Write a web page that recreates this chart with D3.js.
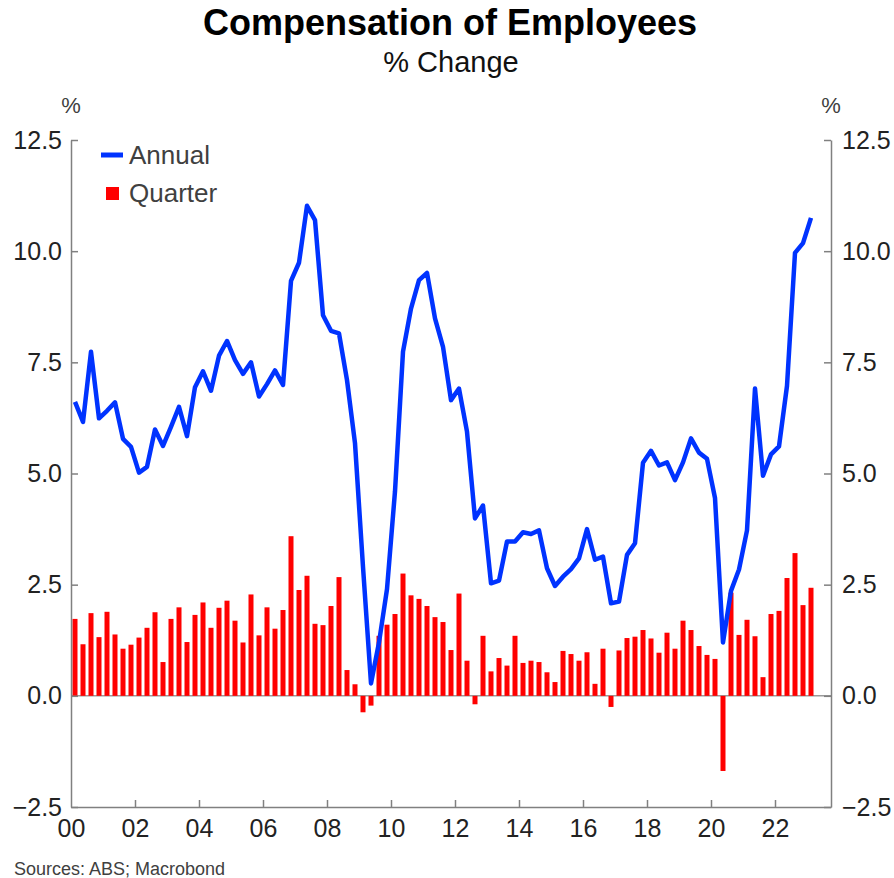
<!DOCTYPE html>
<html>
<head>
<meta charset="utf-8">
<script src="https://cdn.jsdelivr.net/npm/d3@7"></script>
<style>
  body { margin: 0; background: #fff; }
  text { font-family: "Liberation Sans", Arial, sans-serif; }
</style>
</head>
<body>
<div id="chart"></div>
<script>
// Données (trimestres 2000 T1 -> 2023 T1)
const startYear = 2000;
const annual = [
  6.61, 6.16, 7.74, 6.24, 6.41, 6.60, 5.78, 5.60, 5.02, 5.15, 5.99, 5.62,
  6.05, 6.50, 5.84, 6.94, 7.30, 6.86, 7.65, 7.98, 7.55, 7.24, 7.50, 6.73,
  7.01, 7.32, 6.99, 9.33, 9.74, 11.02, 10.70, 8.56, 8.21, 8.15, 7.10, 5.68,
  2.90, 0.28, 1.20, 2.40, 4.60, 7.74, 8.71, 9.35, 9.51, 8.49, 7.85, 6.65,
  6.91, 5.94, 3.99, 4.28, 2.53, 2.59, 3.47, 3.47, 3.68, 3.64, 3.72, 2.87,
  2.47, 2.68, 2.85, 3.09, 3.75, 3.06, 3.13, 2.08, 2.12, 3.17, 3.43, 5.24,
  5.51, 5.18, 5.25, 4.85, 5.25, 5.79, 5.47, 5.33, 4.45, 1.20, 2.36, 2.84,
  3.72, 6.91, 4.95, 5.43, 5.61, 6.97, 9.96, 10.18, 10.75
];
const quarter = [
  1.73, 1.16, 1.86, 1.32, 1.89, 1.38, 1.06, 1.15, 1.31, 1.53, 1.88, 0.76,
  1.73, 1.99, 1.21, 1.82, 2.10, 1.53, 1.98, 2.14, 1.69, 1.20, 2.28, 1.36,
  1.99, 1.51, 1.93, 3.59, 2.38, 2.70, 1.62, 1.59, 2.02, 2.67, 0.58, 0.26,
  -0.37, -0.22, 1.35, 1.60, 1.84, 2.75, 2.26, 2.18, 2.02, 1.77, 1.66, 1.03,
  2.30, 0.79, -0.19, 1.35, 0.55, 0.85, 0.68, 1.35, 0.74, 0.79, 0.76, 0.53,
  0.31, 1.01, 0.94, 0.79, 0.98, 0.27, 1.06, -0.25, 1.02, 1.30, 1.33, 1.48,
  1.29, 0.97, 1.42, 1.06, 1.69, 1.48, 1.12, 0.92, 0.83, -1.69, 2.32, 1.37,
  1.71, 1.34, 0.42, 1.84, 1.91, 2.65, 3.21, 2.04, 2.43
];
const yTicks = [-2.5, 0, 2.5, 5, 7.5, 10, 12.5];
const xTicks = [2000, 2002, 2004, 2006, 2008, 2010, 2012, 2014, 2016, 2018, 2020, 2022];
const xTickLabels = ["00", "02", "04", "06", "08", "10", "12", "14", "16", "18", "20", "22"];

// milieu de chaque trimestre
const data = annual.map((a, i) => ({
  t: startYear + (i + 0.5) / 4,
  annual: a,
  quarter: quarter[i],
}));

const width = 894;
const height = 878;
const margin = { top: 140, right: 63, bottom: 71, left: 71 };
const axisColor = "#808080";

const svg = d3
  .select("#chart")
  .append("svg")
  .attr("width", width)
  .attr("height", height)
  .attr("viewBox", [0, 0, width, height]);

const x = d3
  .scaleLinear()
  .domain([2000, 2023.75])
  .range([margin.left, width - margin.right]);

const y = d3
  .scaleLinear()
  .domain([-2.5, 12.5])
  .range([height - margin.bottom, margin.top]);

// titres
svg.append("text")
  .attr("x", 450).attr("y", 35)
  .attr("text-anchor", "middle")
  .attr("font-size", 36).attr("font-weight", "bold")
  .attr("fill", "#000")
  .text("Compensation of Employees");

svg.append("text")
  .attr("x", 451).attr("y", 72)
  .attr("text-anchor", "middle")
  .attr("font-size", 29)
  .attr("fill", "#111")
  .text("% Change");

// ligne du zéro
svg.append("line")
  .attr("x1", x(2000)).attr("x2", x(2023.75))
  .attr("y1", y(0)).attr("y2", y(0))
  .attr("stroke", "#9a9a9a")
  .attr("stroke-width", 1.5);

// barres trimestrielles
const barW = 5;
svg.append("g")
  .attr("fill", "#ff0000")
  .selectAll("rect")
  .data(data)
  .join("rect")
  .attr("x", (d) => x(d.t) - barW / 2)
  .attr("width", barW)
  .attr("y", (d) => y(Math.max(0, d.quarter)))
  .attr("height", (d) => Math.abs(y(d.quarter) - y(0)));

// ligne annuelle
const line = d3.line().x((d) => x(d.t)).y((d) => y(d.annual));
svg.append("path")
  .datum(data)
  .attr("fill", "none")
  .attr("stroke", "#0033ff")
  .attr("stroke-width", 4.5)
  .attr("stroke-linejoin", "round")
  .attr("d", line);

const fmt = d3.format(".1f");

function styleAxis(g, size) {
  g.select(".domain").attr("stroke", axisColor).attr("stroke-width", 1.5);
  g.selectAll(".tick line").attr("stroke", axisColor).attr("stroke-width", 1.5);
  g.selectAll(".tick text")
    .attr("font-size", size)
    .attr("font-family", "Liberation Sans, Arial, sans-serif")
    .attr("fill", "#222");
}

// axe gauche
svg.append("g")
  .attr("transform", `translate(${x(2000)},0)`)
  .call(d3.axisLeft(y).tickValues(yTicks).tickFormat(fmt).tickSize(-7).tickSizeOuter(0).tickPadding(9))
  .call((g) => styleAxis(g, 25));

// axe droit
svg.append("g")
  .attr("transform", `translate(${x(2023.75)},0)`)
  .call(d3.axisRight(y).tickValues(yTicks).tickFormat(fmt).tickSize(-7).tickSizeOuter(0).tickPadding(11))
  .call((g) => styleAxis(g, 25));

// axe du bas
svg.append("g")
  .attr("transform", `translate(0,${y(-2.5)})`)
  .call(
    d3.axisBottom(x)
      .tickValues(xTicks)
      .tickFormat((d, i) => xTickLabels[i])
      .tickSize(-7)
      .tickSizeOuter(0)
      .tickPadding(12)
  )
  .call((g) => styleAxis(g, 25))
  .call((g) => g.selectAll(".tick").filter((d) => d === 2000).select("line").remove());

// unités
[x(2000), x(2023.75)].forEach((px) => {
  svg.append("text")
    .attr("x", px).attr("y", 113)
    .attr("text-anchor", "middle")
    .attr("font-size", 22)
    .attr("fill", "#404040")
    .text("%");
});

// légende
const legend = svg.append("g");
legend.append("line")
  .attr("x1", 101).attr("x2", 123)
  .attr("y1", 155).attr("y2", 155)
  .attr("stroke", "#0033ff").attr("stroke-width", 5);
legend.append("text")
  .attr("x", 129).attr("y", 155).attr("dy", "0.35em")
  .attr("font-size", 26).attr("fill", "#404040")
  .text("Annual");
legend.append("rect")
  .attr("x", 106).attr("y", 187)
  .attr("width", 13).attr("height", 13)
  .attr("fill", "#ff0000");
legend.append("text")
  .attr("x", 129).attr("y", 193).attr("dy", "0.35em")
  .attr("font-size", 26).attr("fill", "#404040")
  .text("Quarter");

// source
svg.append("text")
  .attr("x", 14).attr("y", 875)
  .attr("font-size", 18)
  .attr("fill", "#404040")
  .text("Sources: ABS; Macrobond");
</script>
</body>
</html>
